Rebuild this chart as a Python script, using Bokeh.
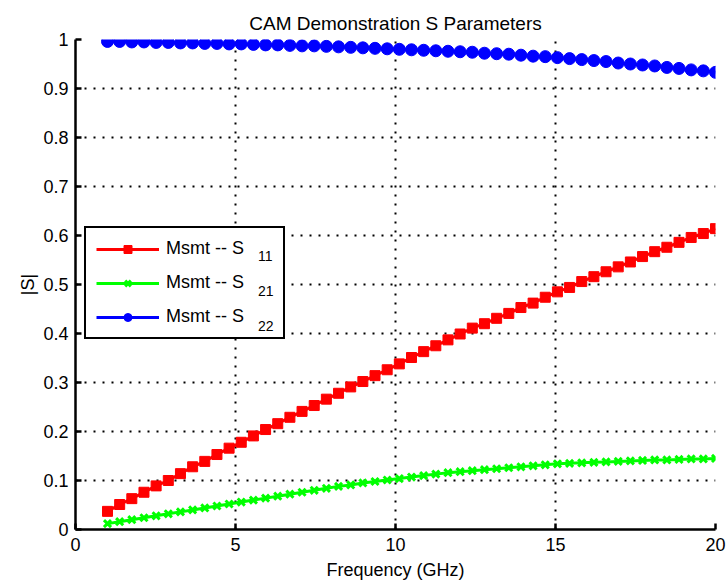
from bokeh.plotting import figure
from bokeh.models import Range1d, FixedTicker, Legend, LegendItem
from bokeh.embed import file_html
from bokeh.resources import INLINE

# ---- data ----
freq_ghz = [1.00, 1.38, 1.76, 2.14, 2.52, 2.90, 3.28, 3.66, 4.04, 4.42,
            4.80, 5.18, 5.56, 5.94, 6.32, 6.70, 7.08, 7.46, 7.84, 8.22,
            8.60, 8.98, 9.36, 9.74, 10.12, 10.50, 10.88, 11.26, 11.64, 12.02,
            12.40, 12.78, 13.16, 13.54, 13.92, 14.30, 14.68, 15.06, 15.44, 15.82,
            16.20, 16.58, 16.96, 17.34, 17.72, 18.10, 18.48, 18.86, 19.24, 19.62,
            20.00]

s11 = [0.037, 0.051, 0.063, 0.076, 0.089, 0.100, 0.114, 0.128, 0.139, 0.153,
       0.166, 0.178, 0.191, 0.204, 0.216, 0.229, 0.241, 0.253, 0.266, 0.278,
       0.291, 0.302, 0.314, 0.326, 0.338, 0.351, 0.363, 0.375, 0.387, 0.399,
       0.411, 0.420, 0.431, 0.441, 0.453, 0.462, 0.474, 0.485, 0.494, 0.506,
       0.516, 0.526, 0.536, 0.546, 0.557, 0.567, 0.576, 0.586, 0.596, 0.604,
       0.614]

s21 = [0.012, 0.016, 0.020, 0.024, 0.028, 0.032, 0.036, 0.040, 0.044, 0.048,
       0.052, 0.056, 0.060, 0.064, 0.068, 0.072, 0.076, 0.080, 0.084, 0.088,
       0.091, 0.095, 0.098, 0.101, 0.104, 0.107, 0.110, 0.113, 0.116, 0.118,
       0.120, 0.122, 0.124, 0.126, 0.128, 0.130, 0.132, 0.134, 0.135, 0.136,
       0.137, 0.138, 0.139, 0.140, 0.141, 0.142, 0.142, 0.143, 0.144, 0.144,
       0.145]

s22 = [0.996, 0.996, 0.995, 0.995, 0.994, 0.994, 0.993, 0.993, 0.992, 0.992,
       0.991, 0.991, 0.990, 0.989, 0.989, 0.988, 0.987, 0.987, 0.986, 0.985,
       0.984, 0.983, 0.982, 0.981, 0.980, 0.979, 0.978, 0.977, 0.976, 0.975,
       0.974, 0.972, 0.971, 0.970, 0.968, 0.966, 0.965, 0.963, 0.961, 0.959,
       0.957, 0.955, 0.952, 0.950, 0.948, 0.946, 0.943, 0.941, 0.938, 0.936,
       0.933]

x_ticks = [0, 5, 10, 15, 20]
x_tick_labels = ["0", "5", "10", "15", "20"]
y_ticks = [0, 0.1, 0.2, 0.3, 0.4, 0.5, 0.6, 0.7, 0.8, 0.9, 1]
y_tick_labels = ["0", "0.1", "0.2", "0.3", "0.4", "0.5", "0.6", "0.7", "0.8", "0.9", "1"]

series_labels = ["Msmt -- S", "Msmt -- S", "Msmt -- S"]
series_subs = ["11", "21", "22"]

FONT = "Liberation Sans"

p = figure(width=727, height=582, x_range=Range1d(0, 20), y_range=Range1d(0, 1),
           output_backend="svg", toolbar_location=None,
           min_border_left=75, min_border_right=12, min_border_top=39, min_border_bottom=52,
           title="CAM Demonstration S Parameters")
p.outline_line_color = None
p.background_fill_color = "white"
p.border_fill_color = "white"

p.title.text_font = FONT
p.title.text_font_size = "19px"
p.title.text_font_style = "normal"
p.title.align = "center"
p.title.text_color = "black"
p.title.standoff = 12

for ax, ticks, labs in ((p.xaxis, x_ticks, x_tick_labels), (p.yaxis, y_ticks, y_tick_labels)):
    ax.ticker = FixedTicker(ticks=ticks)
    ax.major_label_overrides = {t: l for t, l in zip(ticks, labs)}
    ax.major_tick_in = 6
    ax.major_tick_out = 0
    ax.minor_tick_line_color = None
    ax.axis_line_width = 2.5
    ax.major_tick_line_width = 2.5
    ax.axis_line_color = "black"
    ax.major_label_text_font = FONT
    ax.major_label_text_font_size = "18px"
    ax.major_label_text_color = "black"
    ax.axis_label_text_font = FONT
    ax.axis_label_text_font_size = "18px"
    ax.axis_label_text_font_style = "normal"
    ax.axis_label_text_color = "black"

p.xaxis.axis_label = "Frequency (GHz)"
p.yaxis.axis_label = "|S|"
p.xaxis.major_label_standoff = 8
p.yaxis.major_label_standoff = 7
p.xaxis.axis_label_standoff = 6
p.yaxis.axis_label_standoff = 2

p.xgrid.ticker = FixedTicker(ticks=x_ticks)
p.ygrid.ticker = FixedTicker(ticks=y_ticks)
for g in (p.xgrid, p.ygrid):
    g.grid_line_color = "black"
    g.grid_line_width = 2
    g.grid_line_dash = "2 7"
    g.grid_line_alpha = 1.0

RED, GREEN, BLUE = "#ff0000", "#00ff00", "#0000ff"

l1 = p.line(freq_ghz, s11, line_color=RED, line_width=3)
m1 = p.scatter(freq_ghz, s11, marker="square", size=10, fill_color=RED, line_color=RED, line_width=1)
l2 = p.line(freq_ghz, s21, line_color=GREEN, line_width=3)
m2 = p.scatter(freq_ghz, s21, marker="x", size=10, line_color=GREEN, line_width=3)
l3 = p.line(freq_ghz, s22, line_color=BLUE, line_width=3)
m3 = p.scatter(freq_ghz, s22, marker="circle", size=12, fill_color=BLUE, line_color=BLUE, line_width=1)

items = [LegendItem(label=series_labels[0], renderers=[l1, m1]),
         LegendItem(label=series_labels[1], renderers=[l2, m2]),
         LegendItem(label=series_labels[2], renderers=[l3, m3])]
legend = Legend(items=items, location=(9, 190), orientation="vertical",
                glyph_width=63, glyph_height=20, spacing=13, padding=10,
                label_standoff=7, label_width=107, margin=0,
                label_text_font=FONT, label_text_font_size="18px", label_text_color="black",
                border_line_color="black", border_line_width=2.5, border_line_alpha=1.0,
                background_fill_color="white", background_fill_alpha=1.0)
p.add_layout(legend)

# subscripts of the legend entries: a second, transparent legend laid over the first
sub_items = [LegendItem(label=s, renderers=[r]) for s, r in zip(series_subs, [l1, l2, l3])]
sub_legend = Legend(items=sub_items, location=(183, 193), orientation="vertical",
                    glyph_width=0, glyph_height=20, spacing=15, padding=0,
                    label_standoff=0, label_width=10, margin=0,
                    label_text_font=FONT, label_text_font_size="14px", label_text_color="black",
                    border_line_color=None, background_fill_alpha=0.0)
p.add_layout(sub_legend)

open("out.html", "w").write(file_html(p, INLINE))
